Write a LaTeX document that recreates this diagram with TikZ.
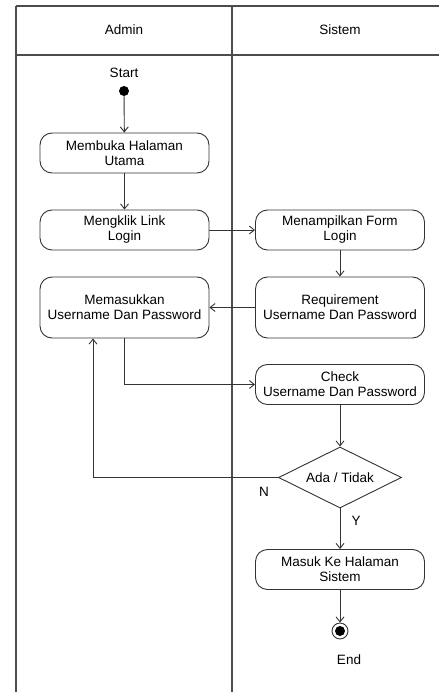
\documentclass[tikz,border=0pt]{standalone}
\usepackage{fontspec}
\setmainfont{Liberation Sans}
\usetikzlibrary{arrows.meta,shapes.geometric}
\begin{document}
\begin{tikzpicture}[x=1pt,y=-1pt,
  font=\fontsize{13.5pt}{15pt}\selectfont,
  lane/.style={draw=black!70,line width=1.4pt},
  act/.style={draw=black!80,line width=0.9pt,rounded corners=12pt,minimum width=169pt,minimum height=40pt,align=center,inner sep=2pt},
  flow/.style={draw=black!80,line width=0.9pt,-{Straight Barb[length=5pt,width=8pt]}},
  lbl/.style={inner sep=0pt}]
\useasboundingbox (0,0) rectangle (439,692);
% swimlanes
\draw[lane] (16,6) -- (439,6);
\draw[lane] (16,55) -- (439,55);
\draw[lane] (16,6) -- (16,692);
\draw[lane] (232,6) -- (232,692);
\node[lbl] (hA) at (124,30) {Admin};
\node[lbl] (hS) at (340,30) {Sistem};
% start
\node[lbl] (st) at (124,73) {Start};
\node[circle,fill=black,minimum size=10pt,inner sep=0pt] (start) at (124,91) {};
% activities
\node[act] (b1) at (124.5,153) {Membuka Halaman\\Utama};
\node[act] (b2) at (124.5,230) {Mengklik Link\\Login};
\node[act,minimum height=61pt] (b3) at (124.5,307.5) {Memasukkan\\Username Dan Password};
\node[act] (b4) at (340,230) {Menampilkan Form\\Login};
\node[act,minimum height=61pt] (b5) at (340,307.5) {Requirement\\Username Dan Password};
\node[act] (b6) at (340,384.5) {Check\\Username Dan Password};
\node[diamond,draw=black!80,line width=0.9pt,minimum width=123pt,minimum height=61pt,inner sep=0pt,aspect=2] (d) at (340,477.5) {Ada / Tidak};
\node[act] (b7) at (340,569.5) {Masuk Ke Halaman\\Sistem};
\node[circle,draw=black!80,line width=0.9pt,minimum size=16pt,inner sep=0pt] (end) at (340,631) {};
\node[circle,fill=black,minimum size=10pt,inner sep=0pt] (endin) at (end) {};
\node[lbl] (en) at (349,660) {End};
\node[lbl] (nN) at (264,492) {N};
\node[lbl] (nY) at (356,521) {Y};
% flows
\draw[flow] (start) -- (b1);
\draw[flow] (b1) -- (b2);
\draw[flow] (b2) -- (b4);
\draw[flow] (b4) -- (b5);
\draw[flow] (b5) -- (b3);
\draw[flow] (b3.south) |- (b6.west);
\draw[flow] (b6) -- (d);
\draw[flow] (d.west) -| ([xshift=-31.5pt]b3.south);
\draw[flow] (d) -- (b7);
\draw[flow] (b7) -- (end);
\end{tikzpicture}
\end{document}
